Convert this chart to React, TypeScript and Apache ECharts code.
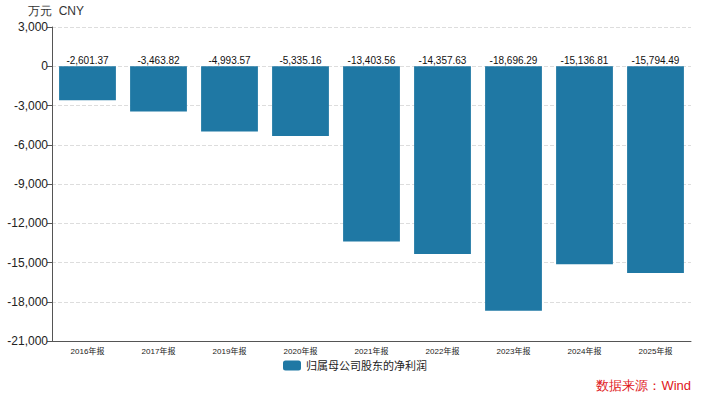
import React, { useEffect, useRef } from "react";
import * as echarts from "echarts";

const categories = ["2016年报", "2017年报", "2019年报", "2020年报", "2021年报", "2022年报", "2023年报", "2024年报", "2025年报"];
const values = [-2601.37, -3463.82, -4993.57, -5335.16, -13403.56, -14357.63, -18696.29, -15136.81, -15794.49];
const seriesName = "归属母公司股东的净利润";

export default function App() {
  const ref = useRef<HTMLDivElement>(null);
  useEffect(() => {
    const chart = echarts.init(ref.current!, null, { renderer: "svg" });
    chart.setOption({
      animation: false,
      textStyle: { fontFamily: "Helvetica, Arial, 'Noto Sans CJK SC', sans-serif" },
      grid: { left: 52, right: 19, top: 27, bottom: 63 },
      legend: {
        data: [seriesName],
        bottom: 28,
        left: "center",
        itemWidth: 18,
        itemHeight: 10,
        itemGap: 6,
        itemStyle: { borderRadius: 3 },
        textStyle: { fontSize: 11, color: "#222" },
      },
      graphic: [
        {
          type: "text",
          left: 28,
          top: 5,
          style: { text: "万元  CNY", fontSize: 12, fill: "#333" },
        },
        {
          type: "text",
          right: 19,
          bottom: 12,
          style: { text: "数据来源：Wind", fontSize: 13, fill: "#e0161b" },
        },
      ],
      xAxis: {
        type: "category",
        data: categories,
        axisLine: { onZero: false, lineStyle: { color: "#555" } },
        axisTick: { alignWithLabel: true, length: 5, lineStyle: { color: "#555" } },
        axisLabel: { fontSize: 8, color: "#222", margin: 6 },
      },
      yAxis: {
        type: "value",
        min: -21000,
        max: 3000,
        interval: 3000,
        axisLine: { show: true, lineStyle: { color: "#555" } },
        axisTick: { show: true, length: 5, lineStyle: { color: "#555" } },
        axisLabel: {
          fontSize: 12,
          color: "#222",
          margin: 4,
          formatter: (v: number) => v.toLocaleString("en-US"),
        },
        splitLine: { lineStyle: { type: "dashed", color: "#ddd" } },
      },
      series: [
        {
          name: seriesName,
          type: "bar",
          data: values,
          barCategoryGap: "20%",
          itemStyle: { color: "#1f78a4" },
          label: {
            show: true,
            position: "top",
            fontSize: 10,
            color: "#111",
            distance: 1,
            formatter: (p: any) =>
              p.value.toLocaleString("en-US", { minimumFractionDigits: 2, maximumFractionDigits: 2 }),
          },
        },
      ],
    });
    return () => chart.dispose();
  }, []);
  return <div ref={ref} style={{ width: 710, height: 404, position: "absolute", left: 0, top: 0 }} />;
}
